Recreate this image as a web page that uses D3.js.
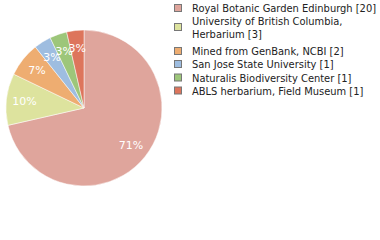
<!DOCTYPE html>
<html><head><meta charset="utf-8">
<script src="https://cdn.jsdelivr.net/npm/d3@7"></script>
<style>body{margin:0;background:#fff}svg{display:block}</style>
</head><body>
<svg id="c" width="380" height="240"></svg>
<script>
const categories = ["Royal Botanic Garden Edinburgh", "University of British Columbia, Herbarium", "Mined from GenBank, NCBI", "San Jose State University", "Naturalis Biodiversity Center", "ABLS herbarium, Field Museum"];
const legendLines = [["Royal Botanic Garden Edinburgh [20]"], ["University of British Columbia,", "Herbarium [3]"], ["Mined from GenBank, NCBI [2]"], ["San Jose State University [1]"], ["Naturalis Biodiversity Center [1]"], ["ABLS herbarium, Field Museum [1]"]];
const counts = [20, 3, 2, 1, 1, 1];
const colors = ["#dfa59c", "#dde39e", "#eead71", "#9ebde0", "#9dc67a", "#dd755c"];

const svg = d3.select("#c");
const cx = 84, cy = 108, r = 78;
const total = d3.sum(counts);
const pie = d3.pie().sort(null).value(d => d)(counts);
const arc = d3.arc().innerRadius(0).outerRadius(r);
const labelArc = d3.arc().innerRadius(60).outerRadius(60);
const g = svg.append("g").attr("transform", `translate(${cx},${cy})`);
g.selectAll("path").data(pie).join("path")
  .attr("d", arc).attr("fill", (d, i) => colors[i])
  .attr("stroke", "#fff").attr("stroke-width", 0.5);
g.selectAll("text").data(pie).join("text")
  .attr("transform", d => `translate(${labelArc.centroid(d)})`)
  .attr("text-anchor", "middle").attr("dy", "0.35em")
  .attr("fill", "#fff").style("font", "11px 'DejaVu Sans'")
  .text(d => Math.floor(d.value / total * 100) + "%");

const lg = svg.append("g").style("font", "11px 'DejaVu Sans Condensed', 'DejaVu Sans'").attr("fill", "#222");
const rowY = [8.5, 27.5, 51.5, 64.5, 78, 91];
legendLines.forEach((lines, i) => {
  lg.append("rect").attr("x", 174.5).attr("y", rowY[i] - 4).attr("width", 7).attr("height", 7)
    .attr("fill", colors[i]).attr("stroke", "#777").attr("stroke-width", 1);
  const n = lines.length;
  lines.forEach((t, j) => {
    lg.append("text").attr("x", 192).attr("y", rowY[i] + (j - (n - 1) / 2) * 13).attr("dy", "0.35em").text(t);
  });
});
</script>
</body></html>
